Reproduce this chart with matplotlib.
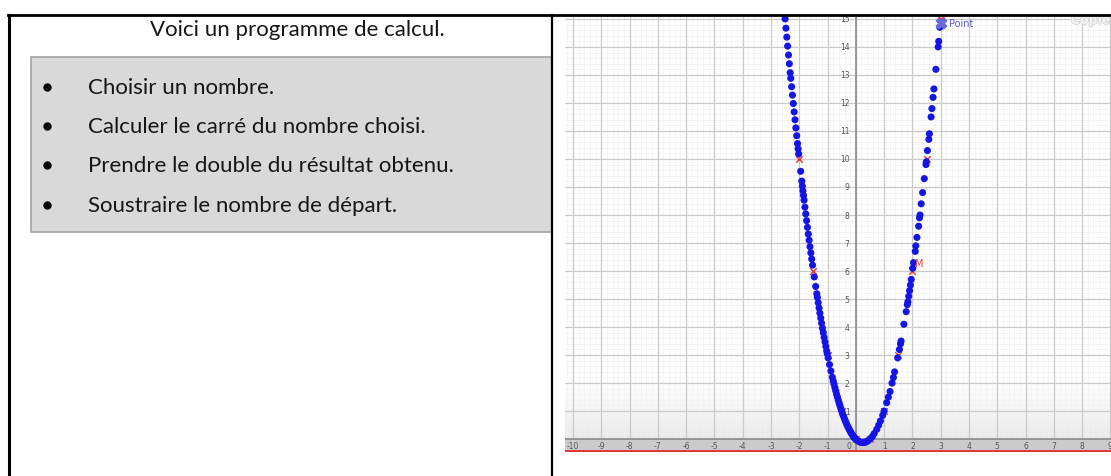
import matplotlib.pyplot as plt
import matplotlib.patheffects as pe
import numpy as np
from matplotlib.patches import Rectangle
from matplotlib.lines import Line2D

# ---- left panel text
title = "Voici un programme de calcul."
steps = [
    "Choisir un nombre.",
    "Calculer le carré du nombre choisi.",
    "Prendre le double du résultat obtenu.",
    "Soustraire le nombre de départ.",
]

# ---- right panel (GeoGebra screenshot) data
left_x = [-2.50, -2.47, -2.44, -2.41, -2.38, -2.35, -2.32, -2.30, -2.27, -2.24,
          -2.21, -2.18, -2.15, -2.12, -2.09, -2.06, -2.04, -2.02, -1.95, -1.91,
          -1.89, -1.87, -1.85, -1.83, -1.80, -1.77, -1.74, -1.71, -1.68, -1.65,
          -1.62, -1.59, -1.56, -1.53, -1.47, -1.42, -1.38, -1.36, -1.33, -1.30,
          -1.27, -1.24, -1.21, -1.18, -1.15, -1.12, -1.09, -1.06, -1.03, -1.01,
          -0.98, -0.93, -0.88, -0.83, -0.80, -0.77, -0.74, -0.71, -0.68, -0.65,
          -0.62, -0.59, -0.56, -0.53, -0.50, -0.47, -0.44, -0.41, -0.38, -0.35,
          -0.32, -0.29, -0.26, -0.23, -0.20, -0.17, -0.14, -0.11, -0.08, -0.05, -0.02]
left_y = [15.00, 14.67, 14.35, 14.03, 13.71, 13.40, 13.08, 12.88, 12.58, 12.28,
          11.98, 11.68, 11.40, 11.11, 10.83, 10.55, 10.36, 10.18, 9.56, 9.21,
          9.03, 8.86, 8.70, 8.53, 8.28, 8.04, 7.80, 7.56, 7.32, 7.10,
          6.87, 6.65, 6.43, 6.21, 5.79, 5.45, 5.19, 5.06, 4.87, 4.68,
          4.50, 4.32, 4.14, 3.96, 3.80, 3.63, 3.47, 3.31, 3.15, 3.05,
          2.90, 2.66, 2.43, 2.21, 2.08, 1.96, 1.84, 1.72, 1.60, 1.50,
          1.39, 1.29, 1.19, 1.09, 1.00, 0.91, 0.83, 0.75, 0.67, 0.60,
          0.52, 0.46, 0.40, 0.34, 0.28, 0.23, 0.18, 0.13, 0.09, 0.055, 0.02]
bottom_x = [0.00, 0.05, 0.10, 0.15, 0.20, 0.25, 0.30, 0.35, 0.40, 0.45]
bottom_y = [0.00, -0.045, -0.08, -0.105, -0.12, -0.125, -0.12, -0.105, -0.08, -0.045]
right_x = [2.97, 2.93, 2.91, 2.83, 2.76, 2.73, 2.69, 2.66, 2.60, 2.58,
           2.53, 2.49, 2.48, 2.42, 2.36, 2.31, 2.27, 2.25, 2.22, 2.16,
           2.12, 2.10, 2.04, 2.01, 1.96, 1.93, 1.90, 1.87, 1.84, 1.82,
           1.78, 1.70, 1.60, 1.58, 1.54, 1.48, 1.37, 1.33, 1.28, 1.21,
           1.15, 1.09, 1.00, 0.95, 0.87, 0.81, 0.74, 0.65, 0.59, 0.53]
right_y = [14.7, 14.2, 14.0, 13.2, 12.5, 12.2, 11.8, 11.5, 10.9, 10.7,
           10.3, 9.9, 9.8, 9.3, 8.8, 8.4, 8.0, 7.9, 7.6, 7.2,
           6.9, 6.7, 6.3, 6.1, 5.7, 5.5, 5.3, 5.1, 4.9, 4.8,
           4.55, 4.1, 3.5, 3.4, 3.2, 2.9, 2.4, 2.2, 2.0, 1.7,
           1.5, 1.3, 1.0, 0.85, 0.65, 0.5, 0.35, 0.2, 0.1, 0.03]
cross_x = [-2.0, -1.5, -1.0, -0.5, 0.0, 0.5, 1.0, 1.5, 2.0, 2.5, 3.0]
cross_y = [10, 6, 3, 1, 0, 0, 1, 3, 6, 10, 15]
xtick_vals = [-10, -9, -8, -7, -6, -5, -4, -3, -2, -1, 1, 2, 3, 4, 5, 6, 7, 8, 9]
ytick_vals = [1, 2, 3, 4, 5, 6, 7, 8, 9, 10, 11, 12, 13, 14, 15]

W, H = 1111, 477
fig = plt.figure(figsize=(W / 100, H / 100), dpi=100)
fig.patch.set_facecolor('white')

# ---------------- GeoGebra-like panel
gx0, gx1, gy0, gy1 = 565, 1111, 16, 453
ax = fig.add_axes([gx0 / W, 1 - gy1 / H, (gx1 - gx0) / W, (gy1 - gy0) / H])
x_lo, x_hi = -10.28, 9.02
y_lo, y_hi = -0.46, 15.14
ax.set_xlim(x_lo, x_hi)
ax.set_ylim(y_lo, y_hi)
for s in ax.spines.values():
    s.set_visible(False)
ax.set_xticks([])
ax.set_yticks([])

# bottom shading of the screenshot (transparent gray ramp, grid stays visible)
ramp = np.zeros((100, 1, 4))
ramp[..., :3] = 0.55
ramp[:, 0, 3] = np.linspace(0.0, 0.28, 100) ** 1.3
ax.imshow(ramp, extent=(x_lo, x_hi, 0, 2.3), origin='upper', aspect='auto',
          zorder=0.2, interpolation='bilinear')

# minor / major grid
for v in np.arange(-10.2, 9.2, 0.2):
    ax.axvline(v, color='#f1f1f1', lw=0.5, zorder=0.3)
for v in np.arange(0.2, 15.2, 0.2):
    ax.axhline(v, color='#f1f1f1', lw=0.5, zorder=0.3)
for v in range(-10, 10):
    ax.axvline(v, color='#cacaca', lw=0.9, zorder=0.5)
for v in range(1, 16):
    ax.axhline(v, color='#cacaca', lw=0.9, zorder=0.5)

ax.add_patch(Rectangle((x_lo, y_lo), x_hi - x_lo, -y_lo, color='#cbcbcb', zorder=0.8))

ax.axhline(0, color='#8a8a8a', lw=1.2, zorder=1)
ax.axvline(0, color='#8a8a8a', lw=1.2, zorder=1)
ax.axhline(y_lo + 0.04, color='#e03030', lw=2, zorder=2)

for v in xtick_vals:
    ax.text(v, -0.22, str(v), ha='center', va='center', fontsize=5.5, color='#555555')
ax.text(-0.25, -0.22, '0', ha='center', va='center', fontsize=5.5, color='#555555')
for v in ytick_vals:
    ax.text(-0.22, v, str(v), ha='right', va='center', fontsize=5.5, color='#555555')

# points
ax.scatter(cross_x, cross_y, marker='x', s=22, color='#e04040', lw=1.1, zorder=3)
dot_kw = dict(s=26, color='#1414e6', edgecolors='none', zorder=4)
ax.scatter(left_x, left_y, **dot_kw)
ax.scatter(bottom_x, bottom_y, **dot_kw)
ax.scatter(right_x, right_y, **dot_kw)
ax.scatter([3.0], [14.85], marker='X', s=55, color='#6a6ad8', zorder=5)
ax.text(3.3, 14.85, 'Point', fontsize=7, color='#5a5ac8', va='center', zorder=5)
ax.text(2.1, 6.3, 'M', fontsize=7, color='#e04040', va='center', zorder=5)
ax.text(7.6, 14.95, 'Copie', fontsize=9, fontweight='bold', color='#f4f4f4', va='center',
        clip_on=True, zorder=5,
        path_effects=[pe.withStroke(linewidth=1, foreground='#d0d0d0')])

# ---------------- left panel + frame (pixel coordinates)
ov = fig.add_axes([0, 0, 1, 1], facecolor='none')
ov.set_xlim(0, W)
ov.set_ylim(H, 0)
ov.axis('off')

ov.add_line(Line2D([8, W], [16, 16], color='black', lw=2))
ov.add_line(Line2D([9, 9], [16, H], color='black', lw=2.2))
ov.add_line(Line2D([552, 552], [16, H], color='black', lw=1.6))

ov.add_patch(Rectangle((31, 58), 521, 175, facecolor='#d9d9d9', edgecolor='#a2a2a2', lw=1.2))

font = ['Lato', 'DejaVu Sans']
ov.text(297, 30, title, ha='center', va='center', fontsize=16, family=font, color='#161616')
row_y = [88, 127, 166, 206]
for yy, s in zip(row_y, steps):
    ov.plot(47, yy, 'o', color='black', ms=5)
    ov.text(88, yy, s, ha='left', va='center', fontsize=16, family=font, color='#161616')

fig.savefig('out.png', dpi=100)
